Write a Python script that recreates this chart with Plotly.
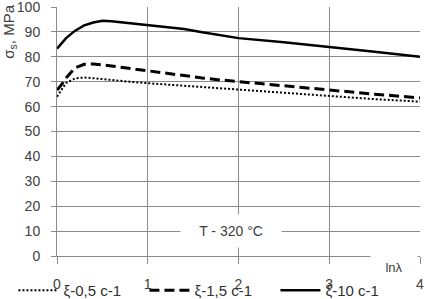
import plotly.graph_objects as go

x_vals = [0, 0.05, 0.1, 0.2, 0.3, 0.4, 0.5, 0.6, 0.8, 1.0, 1.2, 1.4, 1.6, 1.8, 2.0, 2.5, 3.0, 3.5, 4.0]
s_05 = [64.0, 67.0, 69.5, 71.3, 71.7, 71.4, 71.0, 70.6, 70.0, 69.4, 68.9, 68.4, 67.8, 67.2, 66.7, 65.5, 64.2, 63.0, 62.0]
s_15 = [66.7, 68.8, 71.5, 75.6, 77.0, 77.1, 76.8, 76.3, 75.4, 74.4, 73.5, 72.5, 71.5, 70.7, 70.0, 68.5, 66.7, 65.0, 63.5]
s_10 = [83.3, 85.5, 87.5, 90.5, 92.6, 93.8, 94.5, 94.3, 93.5, 92.8, 92.1, 91.2, 89.9, 88.7, 87.5, 85.8, 84.0, 82.0, 80.0]
names = ["ξ-0,5 c-1", "ξ-1,5 c-1", "ξ-10 c-1"]
x_ticks = [0, 1, 2, 3, 4]
y_ticks = [0, 10, 20, 30, 40, 50, 60, 70, 80, 90, 100]

FONT = "Liberation Sans, Arial, sans-serif"
fig = go.Figure()
fig.add_trace(go.Scatter(x=x_vals, y=s_05, mode="lines", name=names[0],
                         line=dict(color="black", width=2, dash="2px,2px")))
fig.add_trace(go.Scatter(x=x_vals, y=s_15, mode="lines", name=names[1],
                         line=dict(color="black", width=3, dash="10px,5px")))
fig.add_trace(go.Scatter(x=x_vals, y=s_10, mode="lines", name=names[2],
                         line=dict(color="black", width=2.5)))

fig.update_layout(
    width=425, height=299,
    margin=dict(l=57, r=5, t=7, b=43, autoexpand=False),
    paper_bgcolor="white", plot_bgcolor="white",
    font=dict(family=FONT, size=14, color="#404040"),
    showlegend=True,
    legend=dict(orientation="h", x=-0.12, xanchor="left", y=-0.072, yanchor="top",
                font=dict(size=15, color="#303030"), bgcolor="rgba(0,0,0,0)",
                entrywidth=76, entrywidthmode="pixels", itemwidth=40,
                tracegroupgap=0),
)
fig.update_xaxes(range=[0, 4], tickvals=x_ticks, showgrid=True, gridcolor="#8c8c8c", gridwidth=1,
                 zeroline=False, showline=True, linecolor="#8c8c8c", ticks="outside", ticklen=7,
                 tickcolor="#8c8c8c", ticklabelstandoff=8, tickfont=dict(size=14, color="#404040"),
                 ticklabeloverflow="allow", fixedrange=True, mirror=False)
fig.update_yaxes(range=[0, 100], tickvals=y_ticks, showgrid=True, gridcolor="#8c8c8c", gridwidth=1,
                 zeroline=False, showline=True, linecolor="#8c8c8c", ticks="outside", ticklen=5,
                 tickcolor="#8c8c8c", ticklabelstandoff=8, tickfont=dict(size=14, color="#404040"),
                 ticklabeloverflow="allow", fixedrange=True)

fig.add_annotation(text="σ<sub>s</sub>, MPa", xref="paper", yref="paper", x=-0.13, y=0.90,
                   textangle=-90, showarrow=False, font=dict(size=15, color="#404040"),
                   xanchor="center", yanchor="middle")
fig.add_annotation(text="T - 320 °C", xref="x", yref="y", x=1.92, y=10, showarrow=False,
                   xanchor="center", yanchor="middle",
                   bgcolor="white", width=98, height=30, font=dict(size=14, color="#404040"))
fig.add_annotation(text="lnλ", xref="paper", yref="paper", x=0.928, y=-0.045, showarrow=False,
                   xanchor="center", yanchor="middle",
                   bgcolor="white", width=44, height=26, font=dict(size=13, color="#404040"))

fig.write_html("out.html", config={"displayModeBar": False},
               post_script="document.body.style.margin='0';")
